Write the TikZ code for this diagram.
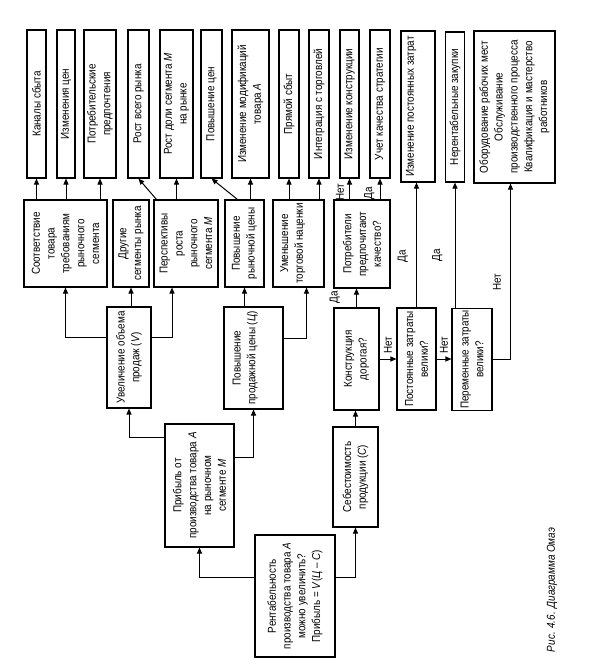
\documentclass[tikz,border=0pt]{standalone}
\usepackage{fontspec}
\setmainfont{Liberation Sans}[FakeStretch=0.86]
\usepackage{tikz}
\usetikzlibrary{arrows.meta, positioning, calc}

\begin{document}
\begin{tikzpicture}[x=1pt, y=-1pt,
    box/.style={draw, line width=1.1pt, rotate=90, align=center, inner sep=1.5pt,
                font=\fontsize{11.5}{14.8}\selectfont},
    lbl/.style={rotate=90, inner sep=5pt, font=\fontsize{11.5}{13}\selectfont},
    arr/.style={-{Triangle[length=6pt, width=5pt]}, line width=1pt}
  ]
    \useasboundingbox (0,0) rectangle (595,672);

    % Leaves
    \node[box, minimum width=148pt, minimum height=19pt] (kanaly) at (36.5,104) {Каналы сбыта};
    \node[box, minimum width=148pt, minimum height=18pt] (izmcen) at (66,104) {Изменения цен};
    \node[box, minimum width=148pt, minimum height=32pt] (potreb) at (100,104) {Потребительские\\предпочтения};
    \node[box, minimum width=148pt, minimum height=21pt] (rostvs) at (138.5,104) {Рост всего рынка};
    \node[box, minimum width=148pt, minimum height=33pt] (rostdol) at (176.5,104) {Рост доли сегмента \textit{М}\\на рынке};
    \node[box, minimum width=148pt, minimum height=21pt] (povcen) at (211.5,104) {Повышение цен};
    \node[box, minimum width=148pt, minimum height=37pt] (izmmod) at (250.5,104) {Изменение модификаций\\товара \textit{А}};
    \node[box, minimum width=148pt, minimum height=20pt] (pryam) at (289,104) {Прямой сбыт};
    \node[box, minimum width=148pt, minimum height=20pt] (integr) at (319,104) {Интеграция с торговлей};
    \node[box, minimum width=148pt, minimum height=19pt] (izmkon) at (349.5,104) {Изменение конструкции};
    \node[box, minimum width=148pt, minimum height=20pt] (uchet) at (380,104) {Учет качества стратегии};
    \node[box, minimum width=151pt, minimum height=34pt, text depth=16pt] (izmpost) at (418,106.5) {Изменение постоянных затрат};
    \node[box, minimum width=150pt, minimum height=19pt] (nerent) at (455,107) {Нерентабельные закупки};
    \node[box, minimum width=152pt, minimum height=81pt] (obor) at (514.5,107)
      {Оборудование рабочих мест\\Обслуживание\\производственного процесса\\Квалификация и мастерство\\работников};

    % Second level
    \node[box, minimum width=87pt, minimum height=83pt] (sootv) at (65.5,243.5) {Соответствие\\товара\\требованиям\\рыночного\\сегмента};
    \node[box, minimum width=87pt, minimum height=36pt] (drugie) at (131,243.5) {Другие\\сегменты рынка};
    \node[box, minimum width=87pt, minimum height=64pt] (persp) at (186,243.5) {Перспективы\\роста\\рыночного\\сегмента \textit{М}};
    \node[box, minimum width=87pt, minimum height=39pt] (povryn) at (244.5,243.5) {Повышение\\рыночной цены};
    \node[box, minimum width=87pt, minimum height=51pt, text depth=14pt] (umen) at (298.5,243.5) {Уменьшение\\торговой наценки};
    \node[box, minimum width=88pt, minimum height=56pt] (potrkach) at (362,244) {Потребители\\предпочитают\\качество?};

    % Third level
    \node[box, minimum width=101pt, minimum height=44pt] (uvel) at (129,357.5) {Увеличение объема\\продаж (\textit{V})};
    \node[box, minimum width=102pt, minimum height=59pt, text depth=19pt] (povprod) at (253.5,358) {Повышение\\продажной цены (\textit{Ц})};
    \node[box, minimum width=102pt, minimum height=45pt] (konstr) at (356.5,359) {Конструкция\\дорогая?};
    \node[box, minimum width=102pt, minimum height=39pt] (post) at (416.5,359) {Постоянные затраты\\велики?};
    \node[box, minimum width=101pt, minimum height=40pt] (per) at (472,359.5) {Переменные затраты\\велики?};

    % Profit and cost
    \node[box, minimum width=123pt, minimum height=69pt] (prib) at (199.5,485.5) {Прибыль от\\производства товара \textit{А}\\на рыночном\\сегменте \textit{М}};
    \node[box, minimum width=100pt, minimum height=45pt] (sebest) at (355.5,477) {Себестоимость\\продукции (\textit{С})};

    % Root
    \node[box, minimum width=122pt, minimum height=80pt] (rent) at (295,596)
      {Рентабельность\\производства товара \textit{А}\\можно увеличить?\\Прибыль = \textit{V}(\textit{Ц} -- \textit{С})};

    \node[rotate=90, font=\itshape\fontsize{11.5}{13}\selectfont] (caption) at (552,590) {Рис. 4.6. Диаграмма Омаэ};

    % Arrows to leaves
    \draw[arr] (kanaly.west |- sootv.east) -- (kanaly.west);
    \draw[arr] (izmcen.west |- sootv.east) -- (izmcen.west);
    \draw[arr] (potreb.west |- sootv.east) -- (potreb.west);
    \draw[arr] ($(persp.north east)+(3,0)$) -- (rostvs.west);
    \draw[arr] (rostdol.west |- persp.east) -- (rostdol.west);
    \draw[arr] ($(povryn.east)+(-7,0)$) -- (povcen.west);
    \draw[arr] (izmmod.west |- povryn.east) -- (izmmod.west);
    \draw[arr] (pryam.west |- umen.east) -- (pryam.west);
    \draw[arr] (integr.west |- umen.east) -- (integr.west);
    \draw[arr] (izmkon.west |- potrkach.east) -- node[lbl, anchor=south, pos=0.35] {Нет} (izmkon.west);
    \draw[arr] (uchet.west |- potrkach.east) -- node[lbl, anchor=south, pos=0.3] {Да} (uchet.west);

    % Arrows to second level
    \draw[arr] ($(uvel.north)+(0,-20)$) -| (sootv.west);
    \draw[arr] (drugie.west |- uvel.east) -- (drugie.west);
    \draw[arr] ($(uvel.south)+(0,-20)$) -| ($(persp.west)+(-14,0)$);
    \draw[arr] (povryn.west |- povprod.east) -- (povryn.west);
    \draw[arr] ($(povprod.south)+(0,-20)$) -| ($(umen.west)+(8,0)$);
    \draw[arr] (konstr.east) -- node[lbl, anchor=south, pos=0.55, inner ysep=16pt] {Да} (konstr.east |- potrkach.west);

    % Cost branch
    \draw[arr] (konstr.south) -- node[lbl, anchor=west] {Нет} (post.north);
    \draw[arr] (post.south) -- node[lbl, anchor=west] {Нет} (post.south -| per.north);
    \draw[arr] (post.east) -- node[lbl, anchor=south, pos=0.41, inner ysep=8pt] {Да} (post.east |- izmpost.west);
    \draw[arr] (nerent.west |- per.east) -- node[lbl, anchor=south, pos=0.42, inner ysep=12pt] {Да} (nerent.west);
    \draw[arr] (per.south) -| node[lbl, anchor=south, pos=0.72, inner ysep=9pt] {Нет} ($(obor.west)+(-4,0)$);

    % Arrows to third level
    \draw[arr] ($(prib.north east)+(0,14)$) -| (uvel.west);
    \draw[arr] ($(prib.south east)+(0,34)$) -| (povprod.west);
    \draw[arr] (sebest.east) -- (sebest.east |- konstr.west);

    % From root
    \draw[arr] ($(rent.north)+(0,-19)$) -| (prib.west);
    \draw[arr] ($(rent.south)+(0,-19)$) -| (sebest.west);
  \end{tikzpicture}
\end{document}
